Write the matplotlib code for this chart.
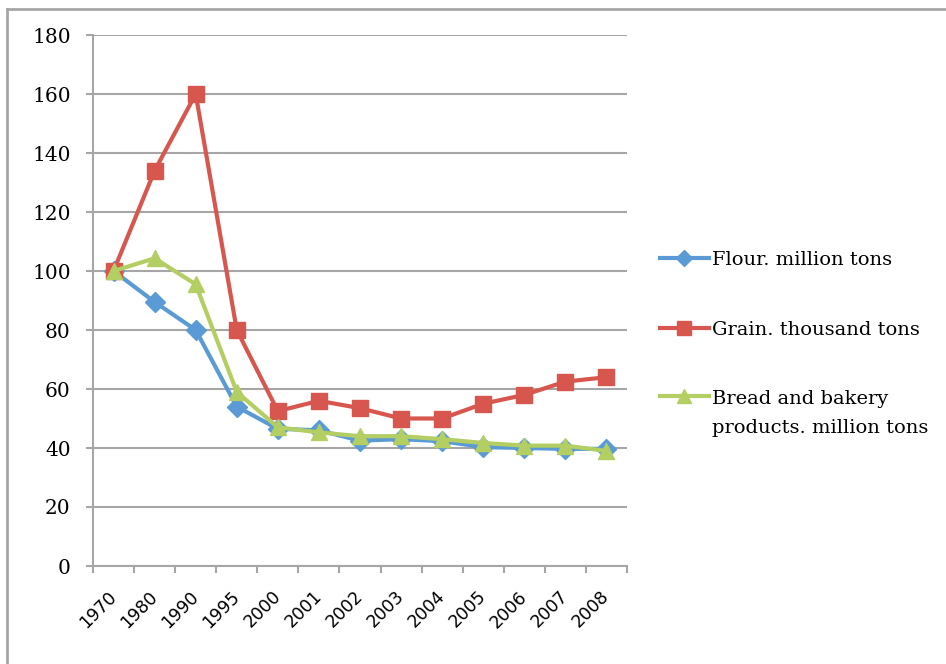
import numpy as np
import matplotlib
matplotlib.use("Agg")
from matplotlib import pyplot as plt
from matplotlib.lines import Line2D

years = ["1970", "1980", "1990", "1995", "2000", "2001", "2002",
         "2003", "2004", "2005", "2006", "2007", "2008"]
flour = [100, 89.5, 80, 54, 46.5, 46, 42.5, 43, 42.3, 40.3, 40, 39.7, 39.7]
grain = [100, 134, 160, 80, 52.5, 56, 53.5, 50, 50, 55, 58, 62.5, 64]
bread = [100, 104.3, 95.5, 59, 47, 45.3, 44, 44, 43, 41.7, 40.8, 40.8, 39]

labels = ["Flour. million tons",
          "Grain. thousand tons",
          "Bread and bakery\nproducts. million tons"]

BLUE = "#5B9BD5"
RED = "#D7574E"
GREEN = "#B3CE62"
GRID = "#A6A6A6"
SERIF = "DejaVu Serif"

fig = plt.figure(figsize=(9.46, 6.64), dpi=100)
ax = fig.add_axes([93 / 946, 1 - 566 / 664, (627 - 93) / 946, (566 - 35) / 664])

x = np.arange(len(years))
ax.plot(x, flour, color=BLUE, lw=3, marker="D", ms=10, label=labels[0])
ax.plot(x, grain, color=RED, lw=3, marker="s", ms=12, label=labels[1])
ax.plot(x, bread, color=GREEN, lw=3, marker="^", ms=12, label=labels[2])

ax.set_xlim(-0.5, len(years) - 0.5)
ax.set_ylim(0, 180)
ax.set_yticks(np.arange(0, 181, 20))
ax.yaxis.grid(True, color=GRID, lw=1.5)
ax.set_axisbelow(True)

# category labels sit between boundary ticks
ax.set_xticks(x)
ax.set_xticklabels(years, rotation=45, ha="right", va="center",
                   rotation_mode="anchor", fontsize=12.5,
                   family="DejaVu Sans")
ax.set_xticks(np.arange(-0.5, len(years), 1), minor=True)
ax.tick_params(axis="x", which="major", length=0, pad=20)
ax.tick_params(axis="x", which="minor", length=5, width=1.5, color=GRID,
               direction="out")
ax.tick_params(axis="y", length=5, width=1.5, color=GRID, pad=11,
               labelsize=14.5)
for t in ax.get_yticklabels():
    t.set_family(SERIF)

for side in ("top", "right"):
    ax.spines[side].set_visible(False)
for side in ("left", "bottom"):
    ax.spines[side].set_color(GRID)
    ax.spines[side].set_linewidth(1.5)

leg_size = 14
leg = ax.legend(loc="upper left", bbox_to_anchor=(660 / 946, 1 - 251 / 664),
                bbox_transform=fig.transFigure, frameon=False,
                prop={"family": SERIF, "size": leg_size}, handlelength=2.5,
                handletextpad=0.15, labelspacing=2.65, borderpad=0,
                borderaxespad=0, markerscale=0.8)
for t in leg.get_texts():
    t.set_linespacing(1.8)

# keep the wrapped entry's handle level with its first line
h = leg.legend_handles[2]
h.set_ydata(np.asarray(h.get_ydata()) + 0.9 * leg_size)

# outer chart frame (top and left edges only)
fig.add_artist(Line2D([7 / 946, 1], [1 - 9 / 664, 1 - 9 / 664],
                      transform=fig.transFigure, color=GRID, lw=2))
fig.add_artist(Line2D([7 / 946, 7 / 946], [0, 1 - 9 / 664],
                      transform=fig.transFigure, color=GRID, lw=2))

fig.savefig("out.png", dpi=100, facecolor="white")
